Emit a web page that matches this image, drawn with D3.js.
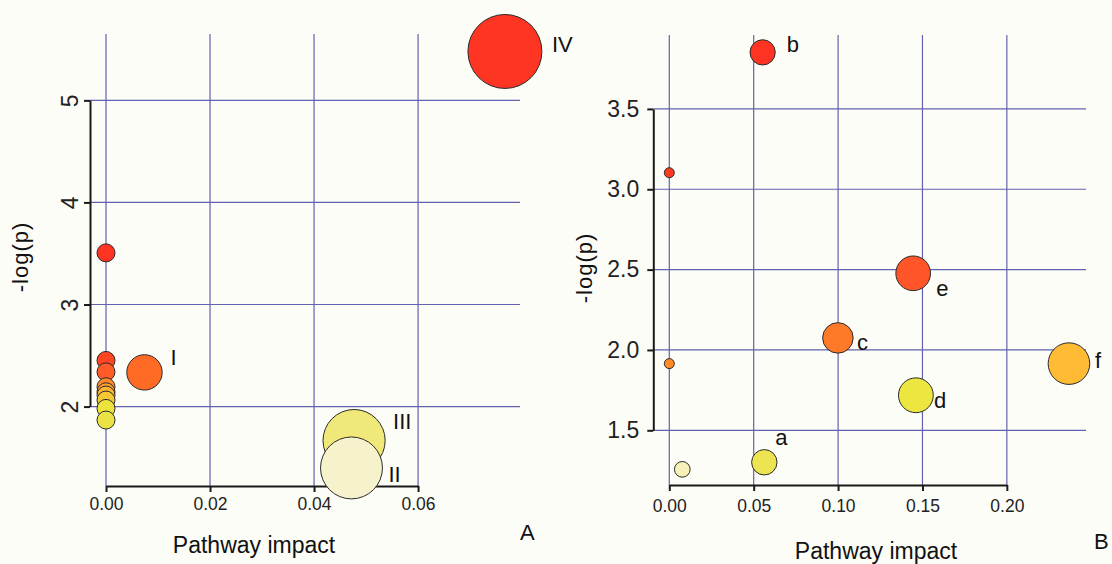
<!DOCTYPE html>
<html>
<head>
<meta charset="utf-8">
<script src="https://cdn.jsdelivr.net/npm/d3@7"></script>
<style>
  body { margin: 0; background: #fdfdf7; }
  svg { display: block; }
</style>
</head>
<body>
<div id="chart"></div>
<script>
// Overall size of the figure
var width = 1112;
var height = 564;

// Panel A values
var aImpact = [0.0767, 0, 0, 0, 0, 0, 0, 0, 0, 0, 0.0074, 0.0477, 0.0472];
var aLogP = [5.479, 3.506, 2.452, 2.340, 2.194, 2.145, 2.113, 2.064, 1.982, 1.868, 2.335, 1.667, 1.399];
var aFill = ["#ff3524", "#ff3322", "#ff4522", "#ff5a27", "#ff882a", "#ffa030", "#ffb433",
             "#f6c836", "#ede33f", "#ebe244", "#ff6b25", "#f1e87a", "#f6f3cc"];
var aLabel = ["IV", "", "", "", "", "", "", "", "", "", "I", "III", "II"];
var aXTicks = [0, 0.02, 0.04, 0.06];
var aYTicks = [2, 3, 4, 5];

// Panel B values
var bImpact = [0.0553, 0, 0.1445, 0.0999, 0.2368, 0, 0.1461, 0.0563, 0.0077];
var bLogP = [3.852, 3.103, 2.477, 2.075, 1.915, 1.915, 1.718, 1.301, 1.257];
var bFill = ["#ff3324", "#ff3a22", "#ff5528", "#ff7a28", "#ffbb33", "#ff8c28", "#ece640", "#ece450", "#f5f1b8"];
var bLabel = ["b", "", "e", "c", "f", "", "d", "a", ""];
var bXTicks = [0, 0.05, 0.10, 0.15, 0.20];
var bYTicks = [1.5, 2.0, 2.5, 3.0, 3.5];

// where each letter sits next to its bubble (px)
var labelOffset = {
  IV: [47, 1], I: [26, -7], III: [39, -12], II: [37, 14],
  b: [24, 0], a: [11, -17], c: [19, 12], e: [23, 23], f: [26, 4], d: [18, 13]
};

var font = "'Liberation Sans', Arial, sans-serif";
var gridColor = "#6262b0";

var svg = d3.select("#chart")
  .append("svg")
  .attr("width", width)
  .attr("height", height)
  .style("font-family", font);

function drawPanel(opt) {
  var x = opt.x, y = opt.y;
  var g = svg.append("g");

  // grid
  g.append("g")
    .selectAll("line")
    .data(opt.xTicks)
    .join("line")
    .attr("x1", d => x(d)).attr("x2", d => x(d))
    .attr("y1", y.range()[1]).attr("y2", y.range()[0])
    .attr("stroke", gridColor).attr("stroke-width", 1.2);
  g.append("g")
    .selectAll("line")
    .data(opt.yTicks)
    .join("line")
    .attr("y1", d => y(d)).attr("y2", d => y(d))
    .attr("x1", x.range()[0]).attr("x2", x.range()[1])
    .attr("stroke", gridColor).attr("stroke-width", 1.2);

  // x axis, only over the tick span
  var xs = x.copy().domain(d3.extent(opt.xTicks)).range(d3.extent(opt.xTicks).map(x));
  var xAxis = g.append("g")
    .attr("transform", `translate(0,${y.range()[0]})`)
    .attr("color", "#1a1a1a")
    .call(d3.axisBottom(xs).tickValues(opt.xTicks).tickFormat(d3.format(".2f"))
      .tickSize(6).tickSizeOuter(0).tickPadding(opt.xPad));
  xAxis.selectAll("path, line").attr("stroke-width", 2);
  xAxis.selectAll("text")
    .attr("font-family", font).attr("font-size", 17.5).attr("fill", "#222");

  // y axis
  var ys = y.copy().domain(d3.extent(opt.yTicks)).range(d3.extent(opt.yTicks).map(y));
  var yAxis = g.append("g")
    .attr("transform", `translate(${x.range()[0]},0)`)
    .attr("color", "#1a1a1a")
    .call(d3.axisLeft(ys).tickValues(opt.yTicks).tickFormat(opt.yFormat)
      .tickSize(6).tickSizeOuter(0).tickPadding(8));
  yAxis.selectAll("path, line").attr("stroke-width", 2);
  yAxis.selectAll("text")
    .attr("font-family", font).attr("font-size", 23).attr("fill", "#222");
  if (opt.rotateY) {
    yAxis.selectAll("text")
      .attr("transform", "rotate(-90)")
      .attr("text-anchor", "middle")
      .attr("x", 0).attr("y", -12).attr("dy", 0);
  }

  // bubbles
  var pts = opt.impact.map((v, i) => ({x: v, y: opt.logp[i], fill: opt.fill[i], label: opt.label[i]}));
  g.append("g")
    .selectAll("circle")
    .data(pts)
    .join("circle")
    .attr("cx", d => x(d.x))
    .attr("cy", d => y(d.y))
    .attr("r", d => opt.r(d.x))
    .attr("fill", d => d.fill)
    .attr("stroke", "#2a2a2a")
    .attr("stroke-width", 1);

  g.append("g")
    .attr("font-size", 22)
    .attr("fill", "#111")
    .selectAll("text")
    .data(pts.filter(d => d.label))
    .join("text")
    .attr("x", d => x(d.x) + labelOffset[d.label][0])
    .attr("y", d => y(d.y) + labelOffset[d.label][1])
    .text(d => d.label);

  // titles
  g.append("text")
    .attr("x", opt.xTitle[0]).attr("y", opt.xTitle[1])
    .attr("text-anchor", "middle")
    .attr("font-size", 23).attr("fill", "#111")
    .text("Pathway impact");
  g.append("text")
    .attr("transform", `translate(${opt.yTitle[0]},${opt.yTitle[1]}) rotate(-90)`)
    .attr("text-anchor", "middle")
    .attr("font-size", 22).attr("letter-spacing", 1).attr("fill", "#111")
    .text("-log(p)");
  g.append("text")
    .attr("x", opt.tag[0]).attr("y", opt.tag[1])
    .attr("font-size", 22).attr("fill", "#111")
    .text(opt.tagText);
}

// Panel A
var xA = d3.scaleLinear().domain([-0.003077, 0.0796]).range([90, 520]);
var yA = d3.scaleLinear().domain([1.222, 5.65]).range([486, 34]);
var rA = d3.scaleSqrt().domain([0, 0.0767]).range([9, 37]);

drawPanel({
  x: xA, y: yA, r: rA,
  impact: aImpact, logp: aLogP, fill: aFill, label: aLabel,
  xTicks: aXTicks, yTicks: aYTicks, yFormat: d3.format("d"), rotateY: true,
  xPad: 6, xTitle: [254, 553], yTitle: [28, 257], tag: [520, 540], tagText: "A"
});

// Panel B
var xB = d3.scaleLinear().domain([-0.00948, 0.2469]).range([653.3, 1086]);
var yB = d3.scaleLinear().domain([1.1596, 3.96]).range([485, 35]);
var rB = d3.scaleSqrt().domain([0, 0.2368]).range([5, 20.8]);

drawPanel({
  x: xB, y: yB, r: rB,
  impact: bImpact, logp: bLogP, fill: bFill, label: bLabel,
  xTicks: bXTicks, yTicks: bYTicks, yFormat: d3.format(".1f"), rotateY: false,
  xPad: 9, xTitle: [876, 559], yTitle: [592, 268], tag: [1094, 549], tagText: "B"
});
</script>
</body>
</html>
